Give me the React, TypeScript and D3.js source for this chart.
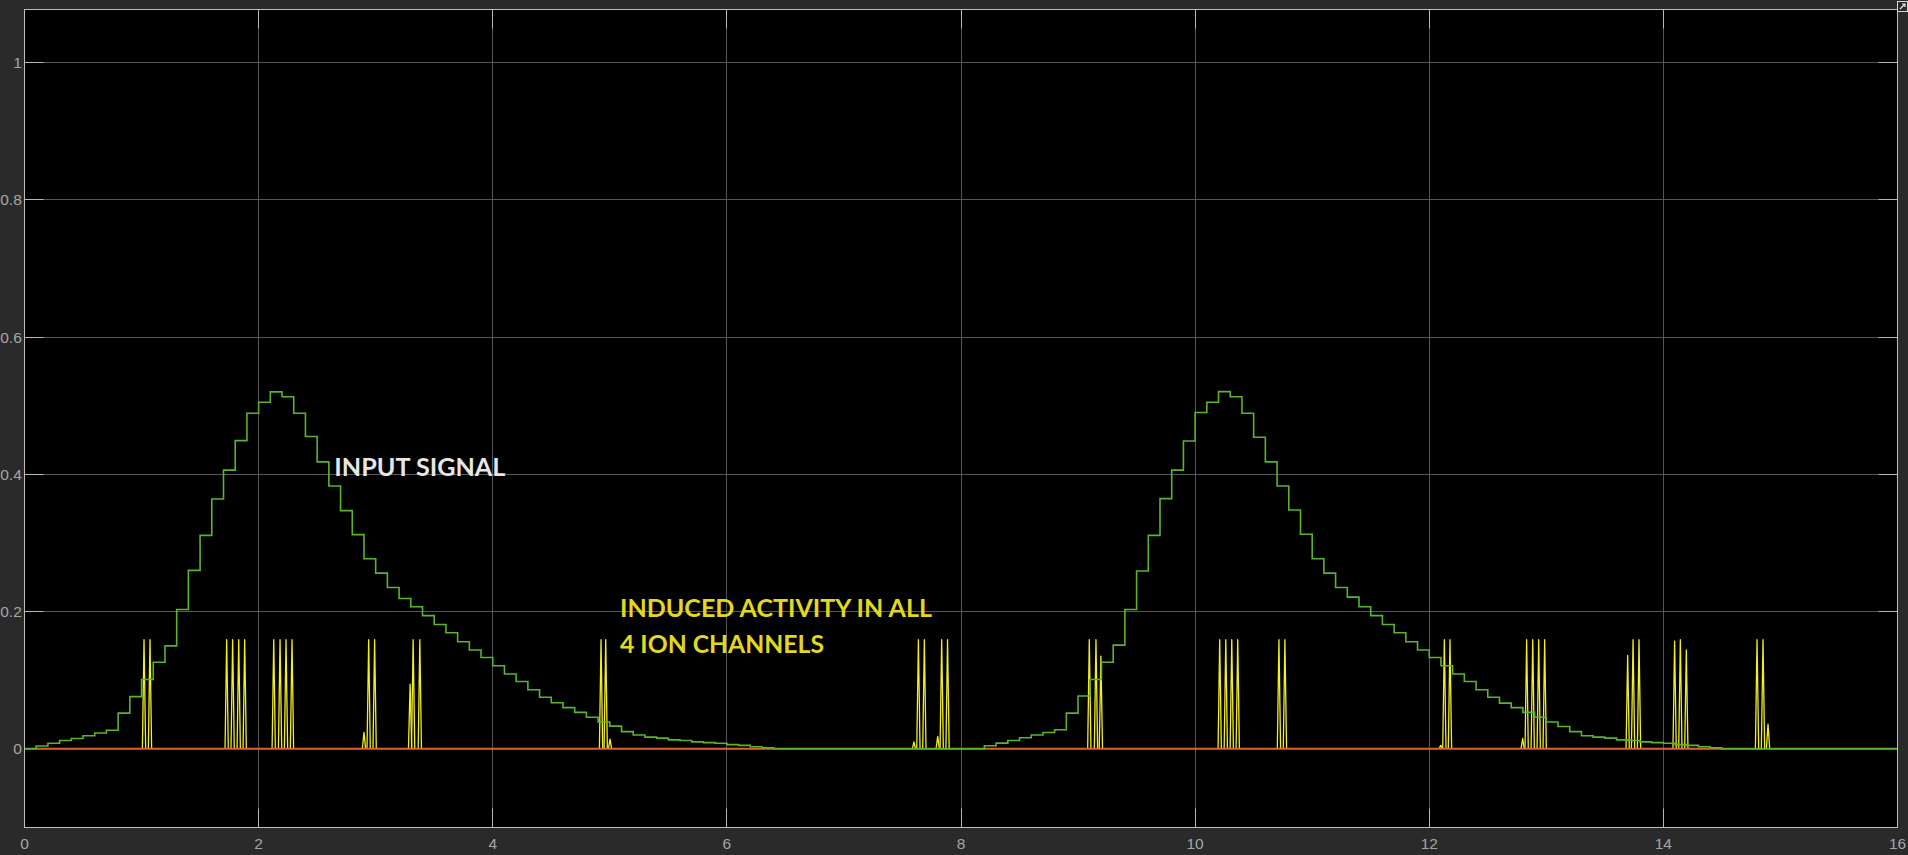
import React, { useEffect } from "react";
import * as d3 from "d3";

// axis ticks
const xTicks = [0, 2, 4, 6, 8, 10, 12, 14, 16];
const yTicks = [0, 0.2, 0.4, 0.6, 0.8, 1];

// input signal: zero-order-hold samples every 0.1 s, two pulses
const stepSize = 0.1;
const pulseStarts = [0, 8.1];
const firstPulse = [
  0, 0.004, 0.008, 0.012, 0.015, 0.019, 0.023, 0.027, 0.052, 0.076,
  0.101, 0.126, 0.15, 0.203, 0.26, 0.311, 0.364, 0.406, 0.449, 0.489,
  0.505, 0.52, 0.513, 0.489, 0.455, 0.418, 0.383, 0.347, 0.312, 0.277,
  0.256, 0.235, 0.219, 0.207, 0.194, 0.181, 0.169, 0.156, 0.144, 0.133,
  0.121, 0.109, 0.098, 0.086, 0.075, 0.067, 0.06, 0.053, 0.046, 0.039,
  0.033, 0.025, 0.02, 0.017, 0.0155, 0.013, 0.012, 0.01, 0.009, 0.008,
  0.006, 0.005, 0.003, 0.0015, 0,
];
const secondPulse = [
  0, 0.0044, 0.0083, 0.012, 0.016, 0.02, 0.0237, 0.0277, 0.052, 0.077,
  0.101, 0.126, 0.151, 0.203, 0.259, 0.311, 0.3645, 0.406, 0.4485, 0.49,
  0.505, 0.5204, 0.513, 0.489, 0.454, 0.418, 0.383, 0.348, 0.3126, 0.277,
  0.256, 0.235, 0.221, 0.207, 0.194, 0.181, 0.169, 0.156, 0.144, 0.133,
  0.121, 0.109, 0.098, 0.086, 0.075, 0.0665, 0.06, 0.053, 0.046, 0.039,
  0.0325, 0.025, 0.019, 0.017, 0.0155, 0.013, 0.012, 0.01, 0.009, 0.008,
  0.006, 0.005, 0.003, 0.0015, 0,
];

// ion channel spikes (time, peak)
const spikeTimes = [
  1.021, 1.072,
  1.727, 1.778, 1.83, 1.881,
  2.129, 2.183, 2.234, 2.285,
  2.9, 2.94, 2.991,
  3.294, 3.32, 3.377,
  4.925, 4.965, 5.002,
  7.598, 7.636, 7.687,
  7.801, 7.835, 7.885,
  9.096, 9.153, 9.195,
  10.21, 10.262, 10.313, 10.364,
  10.716, 10.767,
  12.098, 12.129, 12.177,
  12.798, 12.832, 12.884, 12.935, 12.986,
  13.695, 13.741, 13.792,
  14.096, 14.145, 14.196,
  14.8, 14.851, 14.894,
];
const spikeHeights = [
  0.159, 0.159,
  0.159, 0.159, 0.159, 0.159,
  0.159, 0.159, 0.159, 0.159,
  0.024, 0.159, 0.159,
  0.094, 0.159, 0.159,
  0.159, 0.159, 0.014,
  0.01, 0.159, 0.159,
  0.018, 0.159, 0.159,
  0.159, 0.159, 0.135,
  0.159, 0.159, 0.159, 0.159,
  0.159, 0.159,
  0.005, 0.159, 0.159,
  0.015, 0.159, 0.159, 0.159, 0.159,
  0.136, 0.159, 0.159,
  0.157, 0.159, 0.144,
  0.159, 0.159, 0.036,
];

// channel output that stays at zero
const baselineTimes = [0, 16];
const baselineValues = [0, 0];

const W = 1908;
const H = 855;
const left = 24.5;
const right = 1897.5;
const top = 9.5;
const bottom = 827.5;
const tickLen = 19;

export default function App() {
  useEffect(() => {
    document.body.style.margin = "0";
    document.body.style.background = "#2a2a2a";
    document.body.style.overflow = "hidden";
  }, []);

  const x = d3.scaleLinear().domain([0, 16]).range([left, right]);
  const y = d3.scaleLinear().domain([-0.1147, 1.0772]).range([bottom, top]);
  const crisp = (v: number) => Math.floor(v) + 0.5;

  // build the stepped input from the two pulses
  const nSteps = Math.round(16 / stepSize);
  const inputPts: [number, number][] = [];
  for (let i = 0; i <= nSteps; i++) {
    const t = +(i * stepSize).toFixed(2);
    let v = 0;
    const k1 = Math.round((t - pulseStarts[0]) / stepSize);
    const k2 = Math.round((t - pulseStarts[1]) / stepSize);
    if (k1 >= 0 && k1 < firstPulse.length) v = firstPulse[k1];
    if (k2 >= 0 && k2 < secondPulse.length) v = secondPulse[k2];
    inputPts.push([t, v]);
  }

  const stepLine = d3
    .line<[number, number]>()
    .x((d) => x(d[0]))
    .y((d) => y(d[1]))
    .curve(d3.curveStepAfter);

  const line = d3
    .line<[number, number]>()
    .x((d) => x(d[0]))
    .y((d) => y(d[1]));

  const halfWidth = 0.014;
  const spikePaths = spikeTimes.map((t, i) =>
    line([
      [t - halfWidth, 0],
      [t, spikeHeights[i]],
      [t + halfWidth, 0],
    ])
  );

  const baselinePts: [number, number][] = baselineTimes.map((t, i) => [t, baselineValues[i]]);

  const tickFont = "'Liberation Sans', Arial, sans-serif";
  const noteFont = "Lato, 'Open Sans', sans-serif";

  return (
    <svg width={W} height={H} style={{ display: "block", background: "#2a2a2a" }}>
      <defs>
        <clipPath id="plotClip">
          <rect x={left} y={top} width={right - left} height={bottom - top} />
        </clipPath>
      </defs>
      <rect x={left} y={top} width={right - left} height={bottom - top} fill="#000" />

      {/* grid */}
      <g stroke="#575757" strokeWidth={1}>
        {xTicks.slice(1, -1).map((t) => (
          <line key={"gx" + t} x1={crisp(x(t))} x2={crisp(x(t))} y1={top} y2={bottom} />
        ))}
        {yTicks.map((t) => (
          <line key={"gy" + t} x1={left} x2={right} y1={crisp(y(t))} y2={crisp(y(t))} />
        ))}
      </g>

      {/* inner ticks */}
      <g stroke="#b8b8b8" strokeWidth={1}>
        {xTicks.slice(1, -1).map((t) => (
          <g key={"tx" + t}>
            <line x1={crisp(x(t))} x2={crisp(x(t))} y1={bottom} y2={bottom - tickLen} />
            <line x1={crisp(x(t))} x2={crisp(x(t))} y1={top} y2={top + tickLen} />
          </g>
        ))}
        {yTicks.map((t) => (
          <g key={"ty" + t}>
            <line x1={left} x2={left + tickLen} y1={crisp(y(t))} y2={crisp(y(t))} />
            <line x1={right - tickLen} x2={right} y1={crisp(y(t))} y2={crisp(y(t))} />
          </g>
        ))}
      </g>

      {/* signals */}
      <g clipPath="url(#plotClip)" fill="none">
        <g stroke="#f4ef1e" strokeWidth={1.3} strokeLinejoin="round">
          {spikePaths.map((d, i) => (
            <path key={"s" + i} d={d || ""} />
          ))}
        </g>
        <path d={line(baselinePts) || ""} stroke="#dd6030" strokeWidth={2} />
        <path d={stepLine(inputPts) || ""} stroke="#5ab42c" strokeWidth={1.6} />
      </g>

      {/* box */}
      <rect x={left} y={top} width={right - left} height={bottom - top} fill="none" stroke="#bdbdbd" strokeWidth={1} />

      {/* tick labels */}
      <g fill="#a6a6a6" fontFamily={tickFont} fontSize={15.5}>
        {xTicks.map((t) => (
          <text key={"lx" + t} x={x(t)} y={848.5} textAnchor="middle">
            {t}
          </text>
        ))}
        {yTicks.map((t) => (
          <text key={"ly" + t} x={21.8} y={y(t)} dy="0.36em" textAnchor="end">
            {t}
          </text>
        ))}
      </g>

      {/* annotations */}
      <g fontFamily={noteFont} fontWeight="bold" fontSize={25}>
        <text x={x(2.647)} y={y(0.398)} fill="#e6e6e6" textLength={171} lengthAdjust="spacingAndGlyphs">
          INPUT SIGNAL
        </text>
        <text x={x(5.087)} y={y(0.1927)} fill="#e2d81c" textLength={312} lengthAdjust="spacingAndGlyphs">
          INDUCED ACTIVITY IN ALL
        </text>
        <text x={x(5.087)} y={y(0.1402)} fill="#e2d81c" textLength={204} lengthAdjust="spacingAndGlyphs">
          4 ION CHANNELS
        </text>
      </g>

      {/* undock icon, top right */}
      <g>
        <rect x={1897.5} y={1.5} width={10} height={10} fill="#2a2a2a" stroke="#d8d8d8" strokeWidth={1} />
        <path d="M1900 9 L1905 4 M1902 4 L1905 4 L1905 7" stroke="#e8e8e8" strokeWidth={1.2} fill="none" />
      </g>
    </svg>
  );
}
